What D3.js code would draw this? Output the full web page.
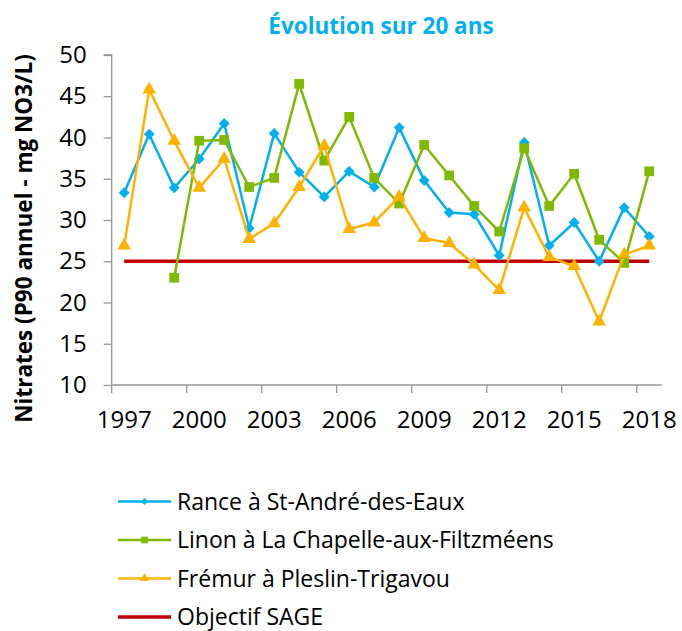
<!DOCTYPE html>
<html>
<head>
<meta charset="utf-8">
<script src="https://cdn.jsdelivr.net/npm/d3@7"></script>
<style>
  body { margin: 0; background: #fff; }
  #graph text { font-family: "Open Sans", sans-serif; fill: #000; }
</style>
</head>
<body>
<div id="graph"></div>
<script>
const width = 682;
const height = 631;

// Chart data
const years = ['1997', '1998', '1999', '2000', '2001', '2002', '2003', '2004', '2005', '2006', '2007',
  '2008', '2009', '2010', '2011', '2012', '2013', '2014', '2015', '2016', '2017', '2018'];
const yTicks = [10, 15, 20, 25, 30, 35, 40, 45, 50];
const xLabels = ['1997', '2000', '2003', '2006', '2009', '2012', '2015', '2018'];
const rance = [33.3, 40.4, 33.9, 37.4, 41.7, 29.0, 40.5, 35.8, 32.8, 35.9, 34.0,
  41.2, 34.8, 30.9, 30.7, 25.7, 39.4, 26.9, 29.7, 25.0, 31.5, 28.0];
const linon = [null, null, 23.0, 39.6, 39.7, 34.0, 35.1, 46.5, 37.2, 42.5, 35.1,
  32.0, 39.1, 35.4, 31.7, 28.6, 38.7, 31.7, 35.6, 27.6, 24.8, 35.9];
const fremur = [26.9, 45.8, 39.6, 33.9, 37.4, 27.7, 29.6, 34.0, 39.0, 28.9, 29.7,
  32.8, 27.8, 27.2, 24.6, 21.5, 31.5, 25.5, 24.4, 17.7, 25.8, 26.9];
const objectif = [25, 25, 25, 25, 25, 25, 25, 25, 25, 25, 25,
  25, 25, 25, 25, 25, 25, 25, 25, 25, 25, 25];

const series = [
  { name: 'Rance à St-André-des-Eaux', values: rance, color: '#00B0F0', symbol: d3.symbolDiamond2, size: 75, legendSize: 30 },
  { name: 'Linon à La Chapelle-aux-Filtzméens', values: linon, color: '#7FBA00', symbol: d3.symbolSquare, size: 95, legendSize: 45 },
  { name: 'Frémur à Pleslin-Trigavou', values: fremur, color: '#FFB300', symbol: d3.symbolTriangle, size: 80, legendSize: 35 },
  { name: 'Objectif SAGE', values: objectif, color: '#C00000', symbol: null }
];

const svg = d3.select('#graph')
  .append('svg')
  .attr('width', width)
  .attr('height', height);

// Scales
const x = d3.scaleBand()
  .domain(years)
  .range([111.7, 661.7]);
const y = d3.scaleLinear()
  .domain([10, 50])
  .range([385, 55]);

// Title
svg.append('text')
  .attr('x', 381)
  .attr('y', 34)
  .attr('text-anchor', 'middle')
  .style('font-size', '22.5px')
  .style('font-weight', 'bold')
  .style('fill', '#00B0F0')
  .text('Évolution sur 20 ans');

// Y axis
const yAxis = svg.append('g')
  .attr('transform', 'translate(111.7,0)')
  .call(d3.axisLeft(y).tickValues(yTicks).tickSize(8).tickPadding(17));
yAxis.selectAll('path, line').attr('stroke', '#969696').attr('stroke-width', 1.3);
yAxis.selectAll('text').style('font-size', '24px');
yAxis.select('.domain').attr('d', 'M0,' + y(10) + 'V' + y(50) + 'H-8');

// Y label
svg.append('text')
  .attr('transform', 'translate(32,238.5) rotate(-90)')
  .attr('text-anchor', 'middle')
  .style('font-size', '22.5px')
  .style('font-weight', 'bold')
  .text('Nitrates (P90 annuel - mg NO3/L)');

// X axis
const xAxis = svg.append('g')
  .attr('transform', 'translate(0,385)');
xAxis.append('line')
  .attr('x1', x.range()[0]).attr('x2', x.range()[1])
  .attr('stroke', '#969696').attr('stroke-width', 1.3);
xAxis.selectAll('line.tick')
  .data(xLabels)
  .enter()
  .append('line')
  .attr('class', 'tick')
  .attr('x1', d => x(d)).attr('x2', d => x(d))
  .attr('y1', 0).attr('y2', 8)
  .attr('stroke', '#969696').attr('stroke-width', 1.3);
xAxis.selectAll('text')
  .data(xLabels)
  .enter()
  .append('text')
  .attr('x', d => x(d) + x.bandwidth() / 2)
  .attr('y', 43)
  .attr('text-anchor', 'middle')
  .style('font-size', '24px')
  .text(d => d);

// Lines and markers
const line = d3.line()
  .defined(d => d != null)
  .x((d, i) => x(years[i]) + x.bandwidth() / 2)
  .y(d => y(d));

const order = [3, 0, 1, 2];
order.forEach(k => {
  const s = series[k];
  svg.append('path')
    .datum(s.values)
    .attr('fill', 'none')
    .attr('stroke', s.color)
    .attr('stroke-width', s.symbol ? 2.5 : 3.5)
    .attr('stroke-linejoin', 'round')
    .attr('d', line);
  if (s.symbol) {
    svg.selectAll(null)
      .data(s.values.map((v, i) => ({ v: v, yr: years[i] })).filter(d => d.v != null))
      .enter()
      .append('path')
      .attr('d', d3.symbol().type(s.symbol).size(s.size))
      .attr('transform', d => 'translate(' + (x(d.yr) + x.bandwidth() / 2) + ',' + y(d.v) + ')')
      .attr('fill', s.color);
  }
});

// Legend
const legend = svg.append('g');
series.forEach((s, i) => {
  const ly = 501.5 + i * 38.5;
  legend.append('line')
    .attr('x1', 118).attr('x2', 171)
    .attr('y1', ly).attr('y2', ly)
    .attr('stroke', s.color)
    .attr('stroke-width', s.symbol ? 2.5 : 3.5);
  if (s.symbol) {
    legend.append('path')
      .attr('d', d3.symbol().type(s.symbol).size(s.legendSize))
      .attr('transform', 'translate(144.5,' + ly + ')')
      .attr('fill', s.color);
  }
  legend.append('text')
    .attr('x', 177)
    .attr('y', ly + 8)
    .style('font-size', '23px')
    .text(s.name);
});
</script>
</body>
</html>
